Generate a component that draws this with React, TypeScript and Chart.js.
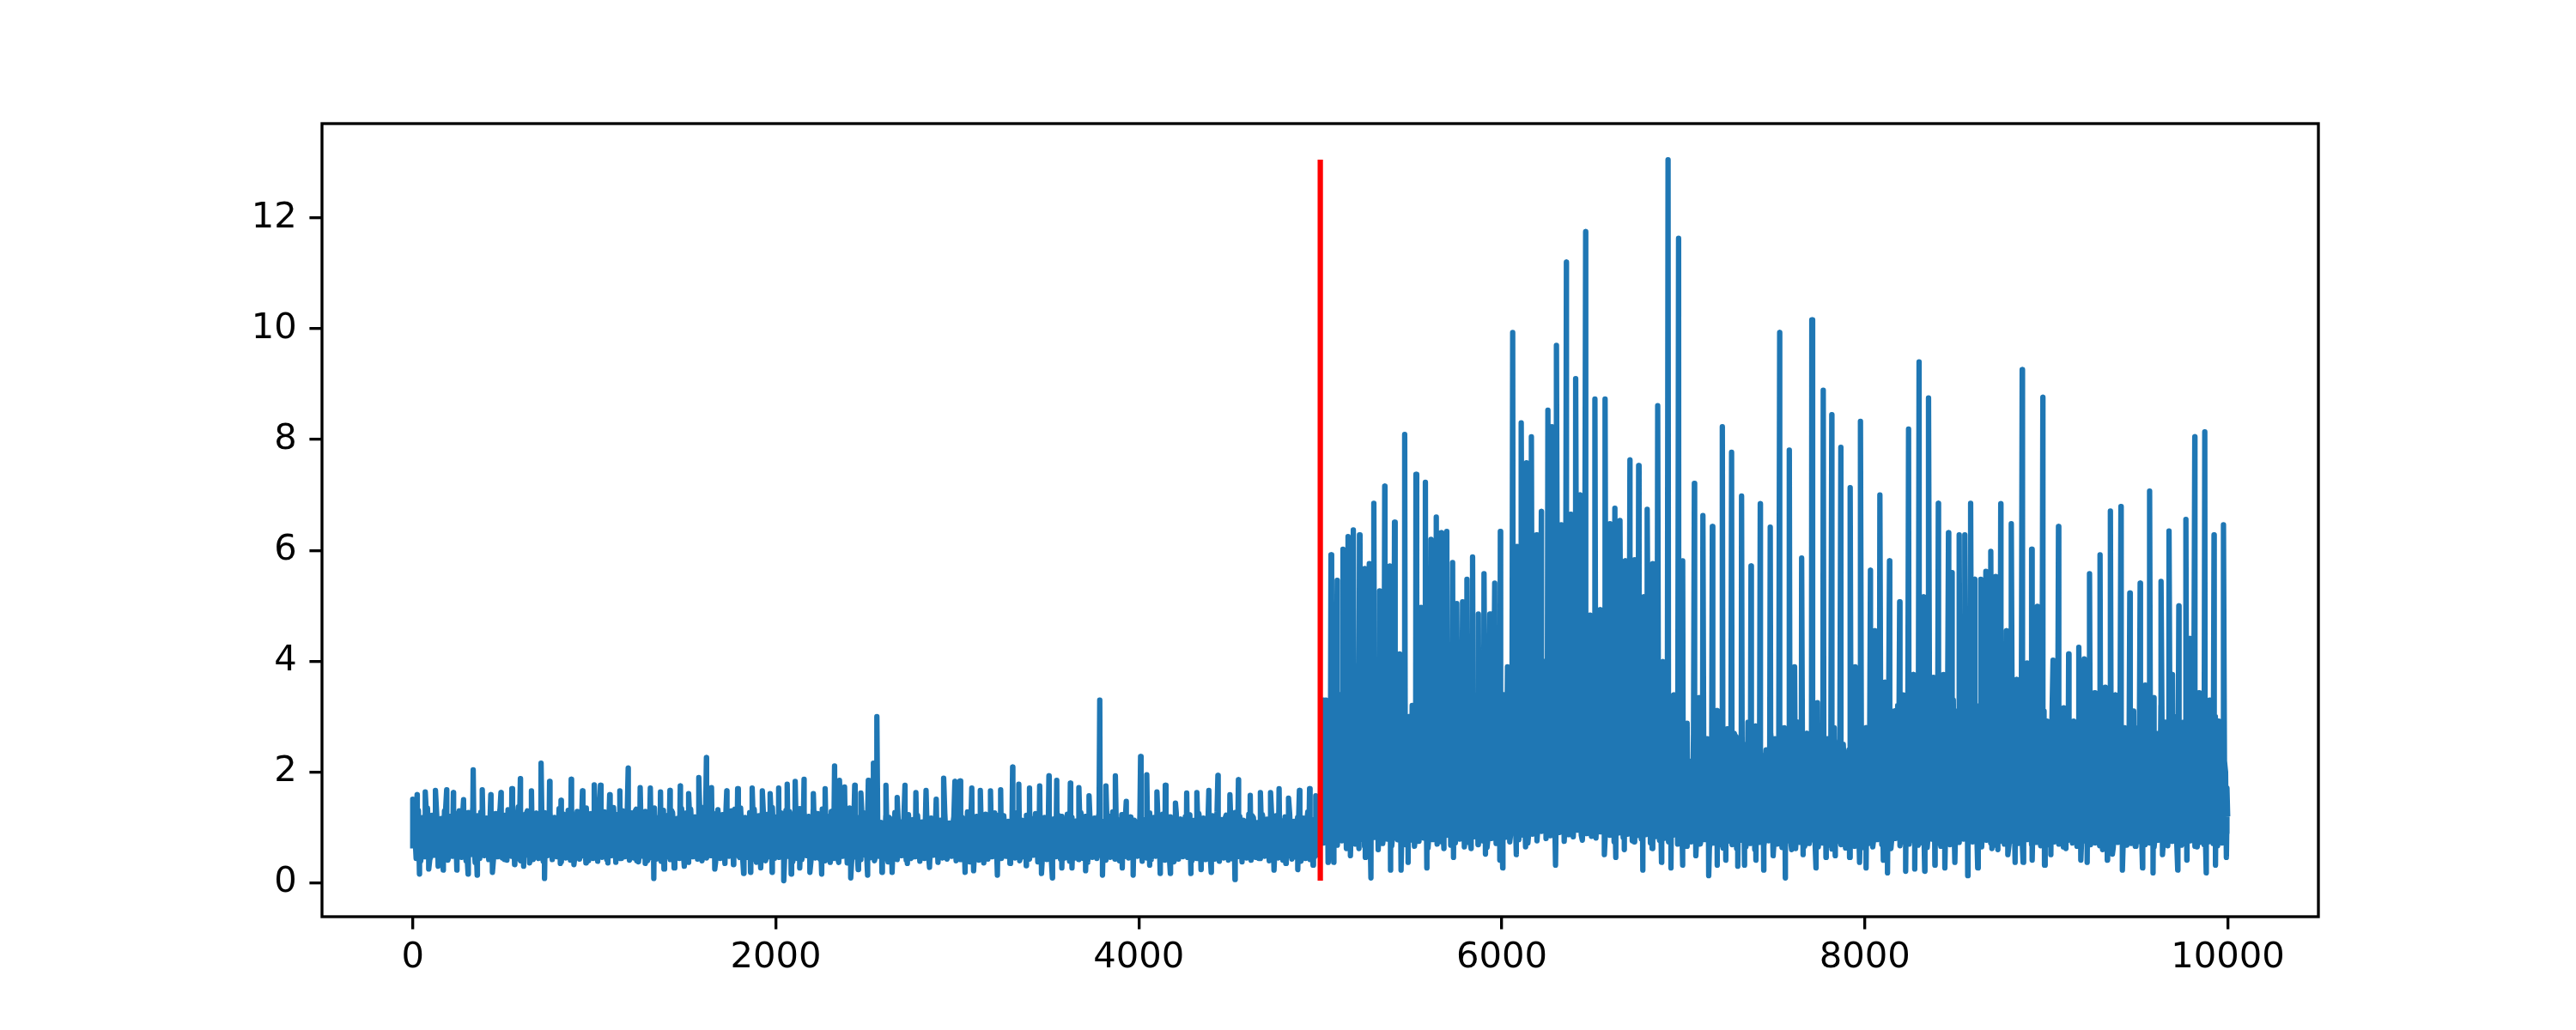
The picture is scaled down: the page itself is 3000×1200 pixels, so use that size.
import React, { useEffect, useRef } from "react";
import { Chart, registerables } from "chart.js";

Chart.register(...registerables);

// ---- data ----
// series index runs 0..9999, change point at 5000
const LAST_INDEX = 9999;
const CHANGE_POINT = 5000;
const BAND_STEP = 25;
const FINE_STEP = 12.5;

// band extremes, first half (x = 0, 25, ..., 4975)
const bandA = [
  0.62,1.18,0.55,1.25,0.48,1.12,0.60,1.30,0.52,1.08,
  0.58,1.22,0.45,1.15,0.66,1.28,0.50,1.05,0.62,1.20,
  0.47,1.32,0.57,1.10,0.64,1.24,0.49,1.16,0.59,1.27,
  0.53,1.09,0.68,1.21,0.46,1.30,0.56,1.13,0.61,1.19,
  0.50,1.26,0.63,1.07,0.54,1.23,0.44,1.17,0.67,1.29,
  0.58,1.11,0.49,1.25,0.60,1.14,0.52,1.31,0.57,1.06,
  0.65,1.20,0.48,1.16,0.55,1.27,0.62,1.09,0.51,1.24,
  0.59,1.33,0.46,1.12,0.63,1.18,0.54,1.26,0.48,1.15,
  0.61,1.08,0.57,1.29,0.50,1.21,0.66,1.13,0.53,1.25,
  0.47,1.17,0.60,1.30,0.55,1.10,0.64,1.23,0.49,1.19,
  0.56,1.12,0.49,1.02,0.63,1.18,0.52,1.07,0.58,1.15,
  0.46,1.09,0.61,1.21,0.54,0.98,0.66,1.13,0.50,1.05,
  0.59,1.19,0.47,1.08,0.62,1.14,0.53,1.01,0.57,1.22,
  0.51,1.06,0.64,1.16,0.48,1.11,0.60,1.03,0.55,1.17,
  0.63,1.10,0.50,1.20,0.58,0.99,0.45,1.12,0.61,1.08,
  0.54,1.15,0.57,1.04,0.65,1.18,0.49,1.09,0.52,1.13,
  0.60,1.01,0.46,1.14,0.56,1.07,0.62,1.19,0.48,1.10,
  0.57,1.17,0.53,1.05,0.47,1.12,0.59,1.00,0.64,1.16,
  0.50,1.08,0.61,1.13,0.55,1.21,0.46,1.06,0.58,1.11,
  0.63,1.14,0.52,1.03,0.60,1.18,0.49,1.09,0.56,1.12,
];

// band middle, first half (x = 12.5, 37.5, ..., 4987.5)
const bandA2 = [
  0.86,0.79,0.92,0.74,0.88,0.81,0.95,0.77,0.84,0.90,
  0.78,0.93,0.83,0.72,0.89,0.97,0.80,0.85,0.76,0.91,
  0.94,0.82,0.75,0.88,0.99,0.79,0.86,0.73,0.90,0.84,
  0.81,0.96,0.77,0.87,0.92,0.74,0.85,0.98,0.80,0.89,
  0.76,0.91,0.84,0.79,0.95,0.82,0.88,0.73,0.93,0.86,
  0.90,0.77,0.97,0.83,0.75,0.89,0.81,0.94,0.78,0.87,
  0.83,0.92,0.74,0.88,0.96,0.80,0.85,0.91,0.77,0.99,
  0.79,0.86,0.93,0.75,0.90,0.84,0.78,0.95,0.82,0.88,
  0.92,0.76,0.87,0.81,0.98,0.73,0.89,0.85,0.94,0.80,
  0.85,0.94,0.78,0.91,0.83,0.97,0.76,0.88,0.82,0.90,
  0.80,0.87,0.74,0.92,0.85,0.78,0.90,0.83,0.95,0.77,
  0.88,0.81,0.93,0.76,0.86,0.91,0.79,0.84,0.72,0.89,
  0.75,0.90,0.84,0.97,0.80,0.86,0.73,0.92,0.87,0.81,
  0.93,0.78,0.85,0.82,0.91,0.76,0.88,0.95,0.79,0.84,
  0.82,0.96,0.77,0.89,0.74,0.87,0.92,0.80,0.85,0.90,
  0.87,0.79,0.94,0.83,0.90,0.75,0.81,0.88,0.97,0.78,
  0.76,0.91,0.85,0.80,0.93,0.86,0.74,0.89,0.82,0.95,
  0.90,0.83,0.78,0.94,0.81,0.88,0.96,0.77,0.86,0.79,
  0.84,0.77,0.92,0.86,0.79,0.91,0.83,0.98,0.75,0.87,
  0.89,0.82,0.96,0.78,0.85,0.93,0.80,0.87,0.92,0.84,
];

// dense band edges, first half (x = 6.25, 18.75, ..., 4993.75)
const bandA3 = [
  1.24,0.44,1.31,0.39,1.18,0.47,1.35,0.42,1.22,0.50,1.28,0.38,1.16,0.45,1.33,0.41,1.20,0.48,1.26,0.43,
  1.30,0.46,1.19,0.40,1.27,0.51,1.36,0.37,1.21,0.44,1.29,0.49,1.17,0.42,1.32,0.39,1.25,0.47,1.34,0.45,
  1.22,0.41,1.28,0.48,1.15,0.43,1.37,0.40,1.23,0.50,1.30,0.36,1.19,0.46,1.26,0.44,1.33,0.39,1.21,0.49,
  1.27,0.42,1.18,0.47,1.34,0.38,1.24,0.45,1.31,0.41,1.16,0.50,1.29,0.43,1.22,0.48,1.35,0.40,1.25,0.44,
  1.32,0.39,1.20,0.46,1.28,0.42,1.17,0.49,1.36,0.37,1.23,0.44,1.30,0.47,1.19,0.41,1.26,0.45,1.33,0.38,
  1.21,0.48,1.29,0.40,1.24,0.45,1.35,0.43,1.18,0.39,1.31,0.46,1.22,0.42,1.27,0.50,1.16,0.44,1.34,0.41,
  1.26,0.37,1.33,0.47,1.19,0.43,1.28,0.40,1.37,0.45,1.20,0.49,1.25,0.38,1.32,0.44,1.23,0.41,1.17,0.48,
  1.30,0.43,1.22,0.50,1.35,0.39,1.18,0.46,1.27,0.42,1.33,0.37,1.21,0.45,1.29,0.40,1.24,0.47,1.36,0.44,
  1.19,0.46,1.26,0.41,1.31,0.48,1.23,0.38,1.17,0.44,1.34,0.42,1.28,0.49,1.20,0.39,1.32,0.45,1.25,0.43,
  1.33,0.40,1.21,0.47,1.29,0.44,1.16,0.41,1.30,0.48,1.24,0.36,1.35,0.43,1.22,0.46,1.18,0.42,1.27,0.50,
  1.18,0.45,1.12,0.40,1.24,0.48,1.09,0.43,1.21,0.38,1.15,0.46,1.27,0.42,1.11,0.49,1.19,0.41,1.23,0.44,
  1.14,0.47,1.22,0.39,1.10,0.44,1.26,0.42,1.17,0.50,1.20,0.37,1.13,0.45,1.25,0.43,1.08,0.48,1.19,0.40,
  1.23,0.42,1.16,0.46,1.28,0.38,1.12,0.49,1.20,0.41,1.09,0.45,1.24,0.43,1.17,0.47,1.26,0.39,1.14,0.44,
  1.21,0.48,1.11,0.41,1.19,0.45,1.27,0.40,1.13,0.47,1.22,0.43,1.16,0.50,1.25,0.38,1.10,0.46,1.18,0.42,
  1.26,0.40,1.15,0.47,1.22,0.43,1.09,0.45,1.24,0.39,1.18,0.48,1.12,0.42,1.27,0.44,1.20,0.37,1.14,0.46,
  1.17,0.44,1.25,0.49,1.11,0.41,1.21,0.46,1.28,0.43,1.13,0.40,1.23,0.47,1.16,0.45,1.19,0.42,1.10,0.48,
  1.22,0.39,1.14,0.45,1.26,0.42,1.18,0.48,1.09,0.44,1.24,0.41,1.20,0.46,1.12,0.38,1.27,0.43,1.15,0.47,
  1.19,0.46,1.23,0.40,1.13,0.44,1.25,0.47,1.17,0.42,1.10,0.49,1.21,0.43,1.28,0.39,1.14,0.45,1.22,0.41,
  1.16,0.43,1.27,0.47,1.20,0.38,1.12,0.45,1.24,0.41,1.18,0.46,1.09,0.44,1.23,0.48,1.15,0.40,1.26,0.42,
  1.21,0.45,1.13,0.41,1.19,0.48,1.25,0.43,1.11,0.46,1.22,0.39,1.17,0.44,1.28,0.42,1.14,0.47,1.20,0.50,
];

// lows between spikes, second half (x = 5000, 5025, ..., 9975)
const bandB = [
  1.10,0.95,1.20,0.85,1.05,0.90,1.15,0.80,1.00,0.92,
  1.25,0.82,0.98,1.10,0.86,1.18,0.94,0.78,1.08,0.88,
  1.02,0.84,1.22,0.90,0.97,1.12,0.81,1.04,0.93,1.16,
  0.87,1.06,0.95,0.79,1.14,0.91,1.01,0.85,1.19,0.96,
  1.05,1.30,0.92,1.18,1.02,1.35,0.96,1.24,1.10,0.99,
  1.28,1.04,1.40,0.95,1.22,1.12,1.33,1.00,1.26,1.08,
  1.15,1.36,0.98,1.20,1.30,1.06,1.25,0.94,1.18,1.32,
  1.02,1.21,0.90,1.14,0.97,1.27,0.88,1.09,0.95,1.16,
  0.86,1.02,0.78,0.95,0.83,1.08,0.75,0.92,0.88,0.99,
  0.80,0.94,0.72,1.05,0.85,0.90,0.77,0.98,0.82,0.93,
  0.76,1.01,0.84,0.89,0.73,0.96,0.87,0.79,1.03,0.81,
  0.91,0.74,0.97,0.86,0.80,1.04,0.78,0.92,0.83,0.95,
  0.88,1.10,0.82,0.99,0.93,1.06,0.85,1.14,0.90,1.01,
  0.96,1.12,0.84,1.05,0.92,1.18,0.87,1.00,0.95,1.09,
  1.03,0.89,1.15,0.94,1.07,0.86,1.11,0.98,0.90,1.06,
  0.93,1.08,0.85,1.01,0.96,0.88,1.12,0.91,1.04,0.87,
  0.99,0.86,1.07,0.92,0.84,1.02,0.95,0.89,1.10,0.94,
  0.87,1.05,0.91,0.98,0.83,1.08,0.96,0.90,1.01,0.85,
  0.97,0.88,1.06,0.93,0.86,1.03,0.90,1.09,0.95,0.84,
  1.00,0.92,1.07,0.87,0.98,1.04,0.89,1.11,0.94,1.02,
];

// mid-level fill, second half (x = 5012.5, 5037.5, ..., 9987.5)
const bandB2 = [
  2.4,3.1,2.2,2.8,3.4,2.6,3.0,2.1,2.9,3.3,
  2.5,3.6,2.7,2.3,3.2,2.8,3.5,2.4,2.6,3.0,
  2.2,2.9,3.3,2.5,2.1,2.7,3.1,2.4,2.8,2.3,
  2.6,3.0,2.2,2.9,2.5,3.2,2.4,2.7,3.0,2.6,
  2.9,3.8,3.2,4.1,3.5,2.8,4.4,3.6,3.1,4.0,
  3.4,4.5,3.0,3.9,4.2,3.3,3.7,4.6,3.2,3.8,
  4.0,3.1,4.3,3.6,2.9,3.9,3.4,4.1,3.0,3.5,
  3.2,2.7,3.6,2.5,3.3,2.9,3.5,2.6,3.1,2.8,
  2.3,1.9,2.6,2.1,2.4,1.8,2.7,2.2,2.0,2.5,
  2.1,2.6,1.9,2.4,2.2,2.8,2.0,2.3,1.8,2.5,
  2.4,2.0,2.7,2.2,1.9,2.5,2.3,2.6,2.1,2.4,
  2.2,2.5,1.9,2.3,2.6,2.0,2.4,2.1,1.7,2.2,
  2.5,3.0,2.2,2.8,3.3,2.6,3.1,2.4,2.9,3.4,
  2.7,3.2,2.5,3.0,2.8,3.5,2.6,3.1,2.9,3.3,
  3.0,2.6,3.4,2.8,3.1,2.5,3.2,2.7,2.9,3.3,
  2.6,3.0,2.4,2.8,3.2,2.5,2.9,2.3,2.7,3.1,
  2.5,2.9,2.3,2.7,3.0,2.4,2.8,2.2,2.6,3.0,
  2.4,2.8,2.2,2.6,2.9,2.3,2.7,2.5,2.1,2.8,
  2.6,2.3,2.9,2.5,2.2,2.8,2.4,3.0,2.6,2.3,
  2.7,2.4,3.0,2.5,2.8,2.2,2.6,2.9,2.4,2.0,
];

// dense band edges, second half (x = 5006.25, 5018.75, ..., 9993.75)
const bandB3 = [
  2.9,0.72,3.3,0.65,2.6,0.80,3.5,0.68,2.8,0.76,3.1,0.62,2.5,0.84,3.4,0.70,2.7,0.78,3.2,0.66,
  3.0,0.74,2.6,0.82,3.3,0.64,2.9,0.71,3.6,0.79,2.7,0.67,3.1,0.85,2.5,0.73,3.4,0.69,2.8,0.77,
  3.2,0.66,2.7,0.75,3.5,0.81,2.9,0.63,3.0,0.78,2.6,0.70,3.3,0.74,2.8,0.86,3.1,0.68,2.5,0.72,
  2.8,0.79,3.4,0.65,2.6,0.73,3.0,0.83,3.3,0.69,2.7,0.76,3.1,0.64,2.9,0.80,3.5,0.71,2.6,0.75,
  3.4,0.82,3.9,0.74,3.1,0.90,4.2,0.78,3.6,0.86,2.9,0.72,4.4,0.88,3.3,0.76,3.8,0.93,3.0,0.80,
  4.1,0.85,3.5,0.79,4.5,0.91,3.2,0.75,3.9,0.87,4.3,0.83,3.4,0.95,3.7,0.77,4.0,0.89,3.6,0.84,
  3.8,0.81,4.2,0.92,3.3,0.78,3.9,0.86,4.4,0.74,3.5,0.90,3.1,0.82,4.0,0.88,3.6,0.76,4.3,0.85,
  3.5,0.79,3.0,0.87,3.7,0.72,3.2,0.83,3.4,0.77,2.9,0.80,3.6,0.74,3.1,0.86,3.3,0.70,2.8,0.78,
  2.5,0.66,2.2,0.74,2.7,0.61,2.4,0.70,2.1,0.78,2.6,0.64,2.3,0.72,2.8,0.68,2.2,0.63,2.5,0.75,
  2.4,0.69,2.7,0.62,2.2,0.77,2.5,0.65,2.9,0.71,2.3,0.60,2.6,0.73,2.1,0.67,2.4,0.76,2.7,0.63,
  2.6,0.70,2.3,0.64,2.8,0.75,2.2,0.68,2.5,0.62,2.9,0.73,2.4,0.66,2.7,0.71,2.1,0.77,2.5,0.65,
  2.3,0.72,2.6,0.67,2.2,0.61,2.8,0.74,2.4,0.69,2.5,0.63,2.1,0.76,2.7,0.66,2.3,0.70,2.2,0.64,
  2.8,0.71,3.1,0.65,2.5,0.78,3.3,0.69,2.7,0.74,3.0,0.62,2.6,0.80,3.2,0.67,2.9,0.73,2.5,0.70,
  3.0,0.76,2.7,0.68,3.3,0.72,2.8,0.64,3.1,0.79,2.6,0.71,3.4,0.66,2.9,0.75,3.2,0.69,2.7,0.77,
  3.1,0.73,2.8,0.79,3.4,0.67,3.0,0.74,2.7,0.70,3.2,0.65,2.9,0.77,3.3,0.72,2.6,0.68,3.0,0.75,
  2.9,0.70,3.2,0.66,2.6,0.75,3.0,0.71,2.8,0.63,3.3,0.78,2.7,0.69,3.1,0.73,2.5,0.67,2.9,0.76,
  2.7,0.68,3.0,0.74,2.5,0.70,2.9,0.65,3.1,0.77,2.6,0.72,2.8,0.66,3.2,0.71,2.6,0.75,2.9,0.69,
  3.0,0.72,2.6,0.67,2.9,0.76,2.7,0.70,3.2,0.64,2.5,0.73,3.0,0.78,2.8,0.68,2.6,0.71,3.1,0.66,
  2.8,0.74,3.1,0.69,2.6,0.72,3.0,0.65,2.7,0.77,3.2,0.70,2.9,0.67,2.5,0.75,3.0,0.71,2.7,0.68,
  2.9,0.70,2.6,0.76,3.1,0.66,2.8,0.73,3.0,0.69,2.5,0.74,2.8,0.71,3.0,0.67,2.6,0.72,2.2,0.90,
];

// upward spikes, first half
const peakX1 = [
  0,24,69,125,187,224,280,333,383,430,
  486,546,593,654,707,754,817,873,935,1000,
  1034,1085,1141,1187,1253,1309,1365,1417,1474,1520,
  1576,1618,1646,1730,1790,1870,1926,1969,2016,2063,
  2107,2156,2207,2272,2324,2351,
  2379,2435,2469,2510,2538,2557,2607,2669,2712,2772,
  2828,2884,2925,2987,3015,3080,3127,3183,3239,3305,
  3339,3398,3454,3505,3548,3623,3670,3726,3785,3819,
  3871,3931,4010,4044,4100,4146,4202,4264,4320,4386,
  4436,4502,4549,4614,4670,4726,4773,4825,4885,4941,
  4975,
];
const peakY1 = [
  1.51,1.59,1.64,1.67,1.68,1.63,1.50,2.04,1.68,1.59,
  1.63,1.70,1.88,1.66,2.16,1.83,1.49,1.87,1.66,1.77,
  1.76,1.59,1.66,2.07,1.72,1.71,1.64,1.67,1.75,1.61,
  1.90,2.26,1.72,1.66,1.70,1.71,1.66,1.61,1.71,1.78,
  1.83,1.87,1.61,1.70,2.11,1.85,
  1.73,1.76,1.62,1.85,2.16,3.00,1.76,1.54,1.76,1.63,
  1.67,1.51,1.89,1.83,1.84,1.71,1.67,1.66,1.68,2.09,
  1.78,1.71,1.75,1.93,1.85,1.80,1.72,1.57,3.30,1.75,
  1.93,1.47,2.28,1.95,1.64,1.76,1.44,1.62,1.63,1.67,
  1.94,1.59,1.86,1.58,1.63,1.63,1.70,1.53,1.67,1.70,
  1.57,
];

// downward dips, first half
const dipX1 = [
  37,88,140,168,243,305,355,439,505,561,
  611,664,726,813,888,954,1019,1075,1178,1234,
  1281,1328,1384,1440,1496,1561,1608,1664,1720,1767,
  1823,1861,1917,1980,2044,2085,2132,2188,2253,2300,
  2347,
  2413,2454,2506,2585,2641,2725,2847,2912,2974,3043,
  3090,3146,3221,3290,3380,3464,3524,3576,3632,3707,
  3800,3909,3969,4060,4118,4174,4287,4343,4399,4530,
  4595,4661,4745,4810,4876,4960,
];
const dipY1 = [
  0.16,0.25,0.30,0.23,0.23,0.16,0.14,0.19,0.42,0.33,
  0.30,0.42,0.08,0.35,0.33,0.36,0.45,0.36,0.49,0.40,
  0.35,0.08,0.25,0.27,0.30,0.48,0.55,0.25,0.35,0.33,
  0.17,0.19,0.27,0.19,0.04,0.16,0.27,0.19,0.16,0.37,
  0.37,
  0.09,0.24,0.14,0.19,0.19,0.35,0.28,0.53,0.50,0.19,
  0.22,0.36,0.14,0.35,0.31,0.17,0.09,0.27,0.27,0.22,
  0.14,0.27,0.14,0.32,0.17,0.17,0.17,0.24,0.19,0.06,
  0.56,0.44,0.23,0.35,0.24,0.32,
];

// upward spikes, second half
const peakX2 = [
  5019,5059,5093,5125,5153,5182,5216,5245,5270,5295,
  5327,5355,5383,5409,5437,5465,5497,5527,5555,5579,
  5610,5639,5666,5697,5729,5752,5784,5808,5839,5871,
  5902,5934,5961,5992,6013,6036,6060,6084,6107,6136,
  6163,6191,6218,6254,6276,6301,6328,6356,6380,6407,
  6431,6462,6486,6513,6541,6569,6596,6623,6651,6680,
  6706,6733,6754,6781,6801,6832,6859,6887,6916,6947,
  6974,6998,7021,7061,7085,7108,7132,7160,7184,7215,
  7242,7266,7290,7321,7345,7373,7397,7424,7452,7479,
  7502,7531,7558,7584,7613,7652,7676,7708,7739,7771,
  7794,7818,7842,7868,7894,7920,7947,7976,8000,8031,
  8054,8083,8110,8136,8165,8192,8212,8241,8267,8299,
  8323,8351,8378,8405,8433,8461,8480,8520,8551,8583,
  8606,8639,8667,8694,8721,8749,8780,8807,8836,8867,
  8894,8919,8951,8981,9004,9037,9067,9096,9123,9151,
  9179,9209,9238,9266,9296,9325,9353,9380,9411,9435,
  9460,9482,9517,9545,9569,9593,9632,9648,9676,9695,
  9730,9750,9769,9790,9818,9842,9873,9900,9924,9947,
  9976,9995,9999,
];
const peakY2 = [
  3.30,5.92,5.46,6.02,6.25,6.37,6.28,5.67,5.76,6.85,
  5.27,7.16,5.72,6.51,4.13,8.09,2.60,7.37,4.97,7.23,
  6.20,6.60,6.32,6.34,5.78,5.04,5.07,5.48,5.88,4.85,
  5.58,4.85,5.41,6.34,2.88,3.11,9.93,6.07,8.30,7.58,
  8.05,6.28,6.70,8.53,8.23,9.70,6.46,11.20,6.65,9.10,
  7.00,11.75,4.83,8.73,4.93,8.73,6.48,6.76,6.54,5.81,
  7.63,5.83,7.53,5.16,6.74,5.76,8.61,3.99,13.05,3.39,
  11.63,5.81,2.88,7.21,3.34,6.63,2.60,6.43,3.11,8.23,
  2.78,7.77,2.64,6.98,2.36,5.72,2.83,6.84,2.13,6.42,
  2.55,9.93,2.41,7.81,3.90,5.86,2.60,10.16,3.25,8.89,
  2.60,8.45,2.32,7.86,2.08,7.13,3.90,8.33,1.10,5.64,
  4.55,7.00,3.62,5.81,2.92,5.07,3.39,8.19,3.76,9.40,
  5.16,8.75,3.71,6.85,3.76,6.32,5.60,6.28,6.28,6.85,
  5.48,5.48,5.62,5.98,5.53,6.84,4.55,6.48,3.67,9.26,
  3.97,6.02,4.99,8.76,2.92,4.02,6.43,3.16,4.13,2.92,
  4.25,4.04,5.58,3.43,5.92,3.53,6.71,3.39,6.79,2.50,
  5.23,2.69,5.41,3.57,7.07,3.34,5.44,2.88,6.35,3.76,
  5.00,2.60,6.56,4.41,8.05,3.43,8.14,3.30,6.28,2.92,
  6.46,1.71,1.20,
];

// downward dips, second half
const dipX2 = [
  5043,5074,5166,5213,5248,5279,5319,5387,5445,5484,
  5587,5642,5681,5734,5776,5831,5910,5989,6005,6080,
  6131,6296,6438,6470,6565,6628,6675,6730,6777,6828,
  6880,6932,6995,7069,7140,7187,7234,7300,7337,7400,
  7443,7495,7562,7597,7660,7731,7786,7837,7916,7971,
  8007,8102,8125,8225,8275,8330,8386,8441,8496,8567,
  8622,8700,8733,8788,8828,8872,8922,8990,9025,9080,
  9108,9190,9225,9310,9336,9364,9419,9490,9530,9588,
  9640,9724,9774,9829,9881,9932,9992,
];
const dipY2 = [
  0.37,0.37,0.49,0.62,0.46,0.09,0.60,0.23,0.23,0.37,
  0.27,0.80,0.62,0.46,0.83,0.62,0.52,0.41,0.27,0.51,
  0.65,0.32,0.86,1.02,0.51,0.46,0.60,0.74,0.23,0.62,
  0.37,0.27,0.32,0.49,0.13,0.32,0.41,0.30,0.32,0.41,
  0.23,0.49,0.09,0.60,0.51,0.27,0.46,0.49,0.46,0.37,
  0.27,0.41,0.18,0.21,0.25,0.21,0.32,0.27,0.37,0.13,
  0.27,0.62,0.60,0.51,0.37,0.37,0.41,0.32,0.51,0.74,
  0.62,0.41,0.37,0.60,0.41,0.52,0.23,0.66,0.27,0.18,
  0.51,0.23,0.41,0.65,0.18,0.32,0.46,
];

const xTicks = [0, 2000, 4000, 6000, 8000, 10000];
const yTicks = [0, 2, 4, 6, 8, 10, 12];

// ---- styling (matplotlib defaults at 300 dpi) ----
const BLUE = "#1f77b4";
const RED = "#ff0000";
const LINE_W = 6.25;
const AXIS_W = 3.33;
const TICK_LEN = 14.6;
const FONT = { family: "'DejaVu Sans', 'Liberation Sans', sans-serif", size: 41.7 };

type Pt = { x: number; y: number };

function buildSeries(): Pt[] {
  const pts: Pt[] = [];
  const half = BAND_STEP / 2;
  const quarter = FINE_STEP / 2;
  bandA.forEach((y, i) => pts.push({ x: i * BAND_STEP, y }));
  bandA2.forEach((y, i) => pts.push({ x: half + i * BAND_STEP, y }));
  bandA3.forEach((y, i) => pts.push({ x: quarter + i * FINE_STEP, y }));
  bandB.forEach((y, i) => pts.push({ x: CHANGE_POINT + i * BAND_STEP, y }));
  bandB2.forEach((y, i) => pts.push({ x: CHANGE_POINT + half + i * BAND_STEP, y }));
  bandB3.forEach((y, i) => pts.push({ x: CHANGE_POINT + quarter + i * FINE_STEP, y }));
  peakX1.forEach((x, i) => pts.push({ x, y: peakY1[i] }));
  dipX1.forEach((x, i) => pts.push({ x, y: dipY1[i] }));
  peakX2.forEach((x, i) => pts.push({ x, y: peakY2[i] }));
  dipX2.forEach((x, i) => pts.push({ x, y: dipY2[i] }));
  pts.sort((a, b) => a.x - b.x);
  return pts;
}

const framePlugin = {
  id: "frame",
  afterDatasetsDraw(chart: any) {
    const { ctx, chartArea } = chart;
    const { left, top, right, bottom } = chartArea;
    ctx.save();
    ctx.lineWidth = AXIS_W;
    ctx.strokeStyle = "#000";
    ctx.strokeRect(left, top, right - left, bottom - top);
    ctx.restore();
  },
};

export default function App() {
  const ref = useRef<HTMLCanvasElement | null>(null);

  useEffect(() => {
    if (!ref.current) return;
    const series = buildSeries();
    const ys = series.map((p) => p.y);
    const yMin = Math.min(...ys);
    const yMax = Math.max(...ys);
    const yPad = 0.05 * (yMax - yMin);
    const xPad = 0.05 * LAST_INDEX;

    const chart = new Chart(ref.current, {
      type: "line",
      data: {
        datasets: [
          {
            label: "change",
            data: [
              { x: CHANGE_POINT, y: yMin },
              { x: CHANGE_POINT, y: yMax },
            ],
            borderColor: RED,
            borderWidth: LINE_W,
            borderCapStyle: "butt",
            pointRadius: 0,
            order: 0,
          },
          {
            label: "series",
            data: series,
            borderColor: BLUE,
            borderWidth: LINE_W,
            borderJoinStyle: "round",
            pointRadius: 0,
            tension: 0,
            order: 1,
          },
        ],
      },
      options: {
        animation: false,
        responsive: false,
        devicePixelRatio: 1,
        events: [],
        layout: { padding: { left: 0, right: 300, top: 144, bottom: 0 } },
        plugins: { legend: { display: false }, tooltip: { enabled: false } },
        scales: {
          x: {
            type: "linear",
            min: -xPad,
            max: LAST_INDEX + xPad,
            afterBuildTicks: (s: any) => {
              s.ticks = xTicks.map((v) => ({ value: v }));
            },
            afterFit: (s: any) => {
              s.height = 132;
            },
            ticks: {
              callback: (v: any) => String(v),
              font: FONT,
              color: "#000",
              padding: 9,
              maxRotation: 0,
              autoSkip: false,
            },
            grid: {
              display: true,
              drawOnChartArea: false,
              drawTicks: true,
              tickLength: TICK_LEN,
              lineWidth: AXIS_W,
              color: "#000",
            },
            border: { display: false },
          },
          y: {
            type: "linear",
            min: yMin - yPad,
            max: yMax + yPad,
            afterBuildTicks: (s: any) => {
              s.ticks = yTicks.map((v) => ({ value: v }));
            },
            afterFit: (s: any) => {
              s.width = 375;
            },
            ticks: {
              callback: (v: any) => String(v),
              font: FONT,
              color: "#000",
              padding: 14.6,
              autoSkip: false,
            },
            grid: {
              display: true,
              drawOnChartArea: false,
              drawTicks: true,
              tickLength: TICK_LEN,
              lineWidth: AXIS_W,
              color: "#000",
            },
            border: { display: false },
          },
        },
      } as any,
      plugins: [framePlugin],
    });
    return () => chart.destroy();
  }, []);

  return (
    <div
      style={{
        position: "absolute",
        left: 0,
        top: 0,
        width: 3000,
        height: 1200,
        background: "#ffffff",
      }}
    >
      <canvas ref={ref} width={3000} height={1200} style={{ display: "block" }} />
    </div>
  );
}
